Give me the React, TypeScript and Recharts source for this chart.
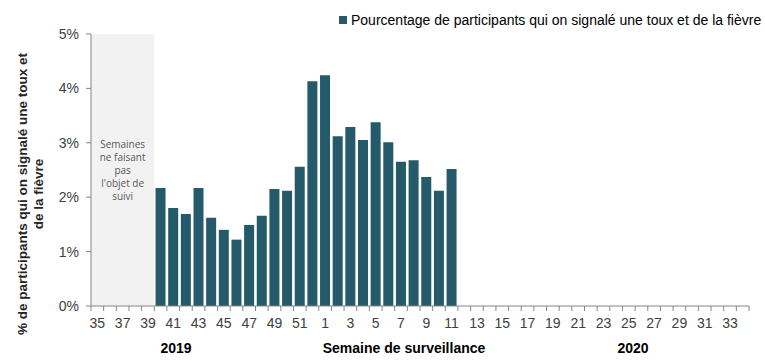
import React from 'react';
import { BarChart, Bar, XAxis, YAxis, ReferenceArea } from 'recharts';

const WEEKS = [
    '35', '36', '37', '38', '39', '40', '41', '42', '43', '44', '45', '46', '47', '48', '49', '50', '51', '52',
    '1', '2', '3', '4', '5', '6', '7', '8', '9', '10', '11', '12', '13', '14', '15', '16', '17',
    '18', '19', '20', '21', '22', '23', '24', '25', '26', '27', '28', '29', '30', '31', '32', '33', '34',
];

// % des participants, semaines 40 (2019) à 11 (2020)
const PCT_2019 = [null, null, null, null, null, 2.17, 1.80, 1.69, 2.17, 1.62, 1.40, 1.22, 1.49, 1.66, 2.15, 2.12, 2.56, 4.13];
const PCT_2020 = [4.24, 3.12, 3.29, 3.05, 3.38, 3.01, 2.65, 2.68, 2.37, 2.12, 2.52];

const Y_TICKS = [0, 1, 2, 3, 4, 5];
const SERIES = 'Pourcentage de participants qui on signalé une toux et de la fièvre';
const Y_TITLE = ['% de participants qui on signalé une toux et', 'de la fièvre'];
const GREY_NOTE = ['Semaines', 'ne faisant', 'pas', "l'objet de", 'suivi'];

const values = [...PCT_2019, ...PCT_2020];
const data = WEEKS.map((w, i) => ({ week: w, value: values[i] ?? null }));

const W = 765;
const H = 361;
const M = { top: 34, right: 16, left: 0, bottom: 0 };
const Y_W = 91;
const X_H = 55;
const BAND = (W - M.right - Y_W) / WEEKS.length;
const AXIS = '#868686';
const BAR = '#245a69';
const FONT = 'Arial, "Liberation Sans", sans-serif';

const XTick = (props: any) => {
    const { x, y, payload } = props;
    const i = payload.index;
    return (
        <g>
            <line x1={x - BAND / 2} x2={x - BAND / 2} y1={y - 8} y2={y - 3} stroke={AXIS} />
            {i === WEEKS.length - 1 && (
                <line x1={x + BAND / 2} x2={x + BAND / 2} y1={y - 8} y2={y - 3} stroke={AXIS} />
            )}
            {i % 2 === 0 && (
                <text x={x} y={y + 14} textAnchor="middle" fontSize={14} fill="#404040" fontFamily={FONT}>
                    {payload.value}
                </text>
            )}
        </g>
    );
};

const YTitle = () => {
    const cy = 194;
    return (
        <g fontFamily={FONT} fontWeight="bold" fontSize={13.5} fill="#262626">
            <text x={27} y={cy} transform={`rotate(-90, 27, ${cy})`} textAnchor="middle">{Y_TITLE[0]}</text>
            <text x={43} y={cy} transform={`rotate(-90, 43, ${cy})`} textAnchor="middle">{Y_TITLE[1]}</text>
        </g>
    );
};

const XTitles = () => (
    <g fontFamily={FONT} fontWeight="bold" fontSize={14} fill="#000">
        <text x={176} y={353} textAnchor="middle">2019</text>
        <text x={404} y={353} textAnchor="middle">Semaine de surveillance</text>
        <text x={633} y={353} textAnchor="middle">2020</text>
    </g>
);

const GreyNote = (props: any) => {
    const { viewBox } = props;
    const cx = viewBox.x + viewBox.width / 2;
    return (
        <text fontFamily='"Open Sans", "Noto Sans", sans-serif' fontSize={10} fill="#595959" textAnchor="middle">
            {GREY_NOTE.map((t, i) => (
                <tspan key={i} x={cx} y={148 + i * 13}>{t}</tspan>
            ))}
        </text>
    );
};

export default function App() {
    return (
        <div style={{ position: 'absolute', left: 0, top: 0, width: W, height: H, background: '#fff' }}>
            <BarChart width={W} height={H} data={data} margin={M} barCategoryGap="10%">
                <ReferenceArea x1="35" x2="39" fill="#f2f2f2" fillOpacity={1} stroke="none" ifOverflow="visible" label={<GreyNote />} />
                <XAxis
                    dataKey="week"
                    height={X_H}
                    interval={0}
                    tickLine={false}
                    axisLine={{ stroke: AXIS }}
                    tick={<XTick />}
                    label={<XTitles />}
                />
                <YAxis
                    width={Y_W}
                    domain={[0, 5]}
                    ticks={Y_TICKS}
                    tickFormatter={(v: number) => `${v}%`}
                    axisLine={{ stroke: AXIS }}
                    tickLine={{ stroke: AXIS }}
                    tickSize={5}
                    tickMargin={7}
                    tick={{ fontSize: 14, fill: '#404040', fontFamily: FONT }}
                    label={<YTitle />}
                />
                <Bar dataKey="value" fill={BAR} isAnimationActive={false} />
            </BarChart>
            <div style={{ position: 'absolute', left: 339, top: 12, display: 'flex', alignItems: 'center', fontFamily: FONT, fontSize: 14, color: '#000', whiteSpace: 'nowrap' }}>
                <span style={{ display: 'inline-block', width: 8, height: 8, background: BAR, marginRight: 4 }} />
                {SERIES}
            </div>
        </div>
    );
}
